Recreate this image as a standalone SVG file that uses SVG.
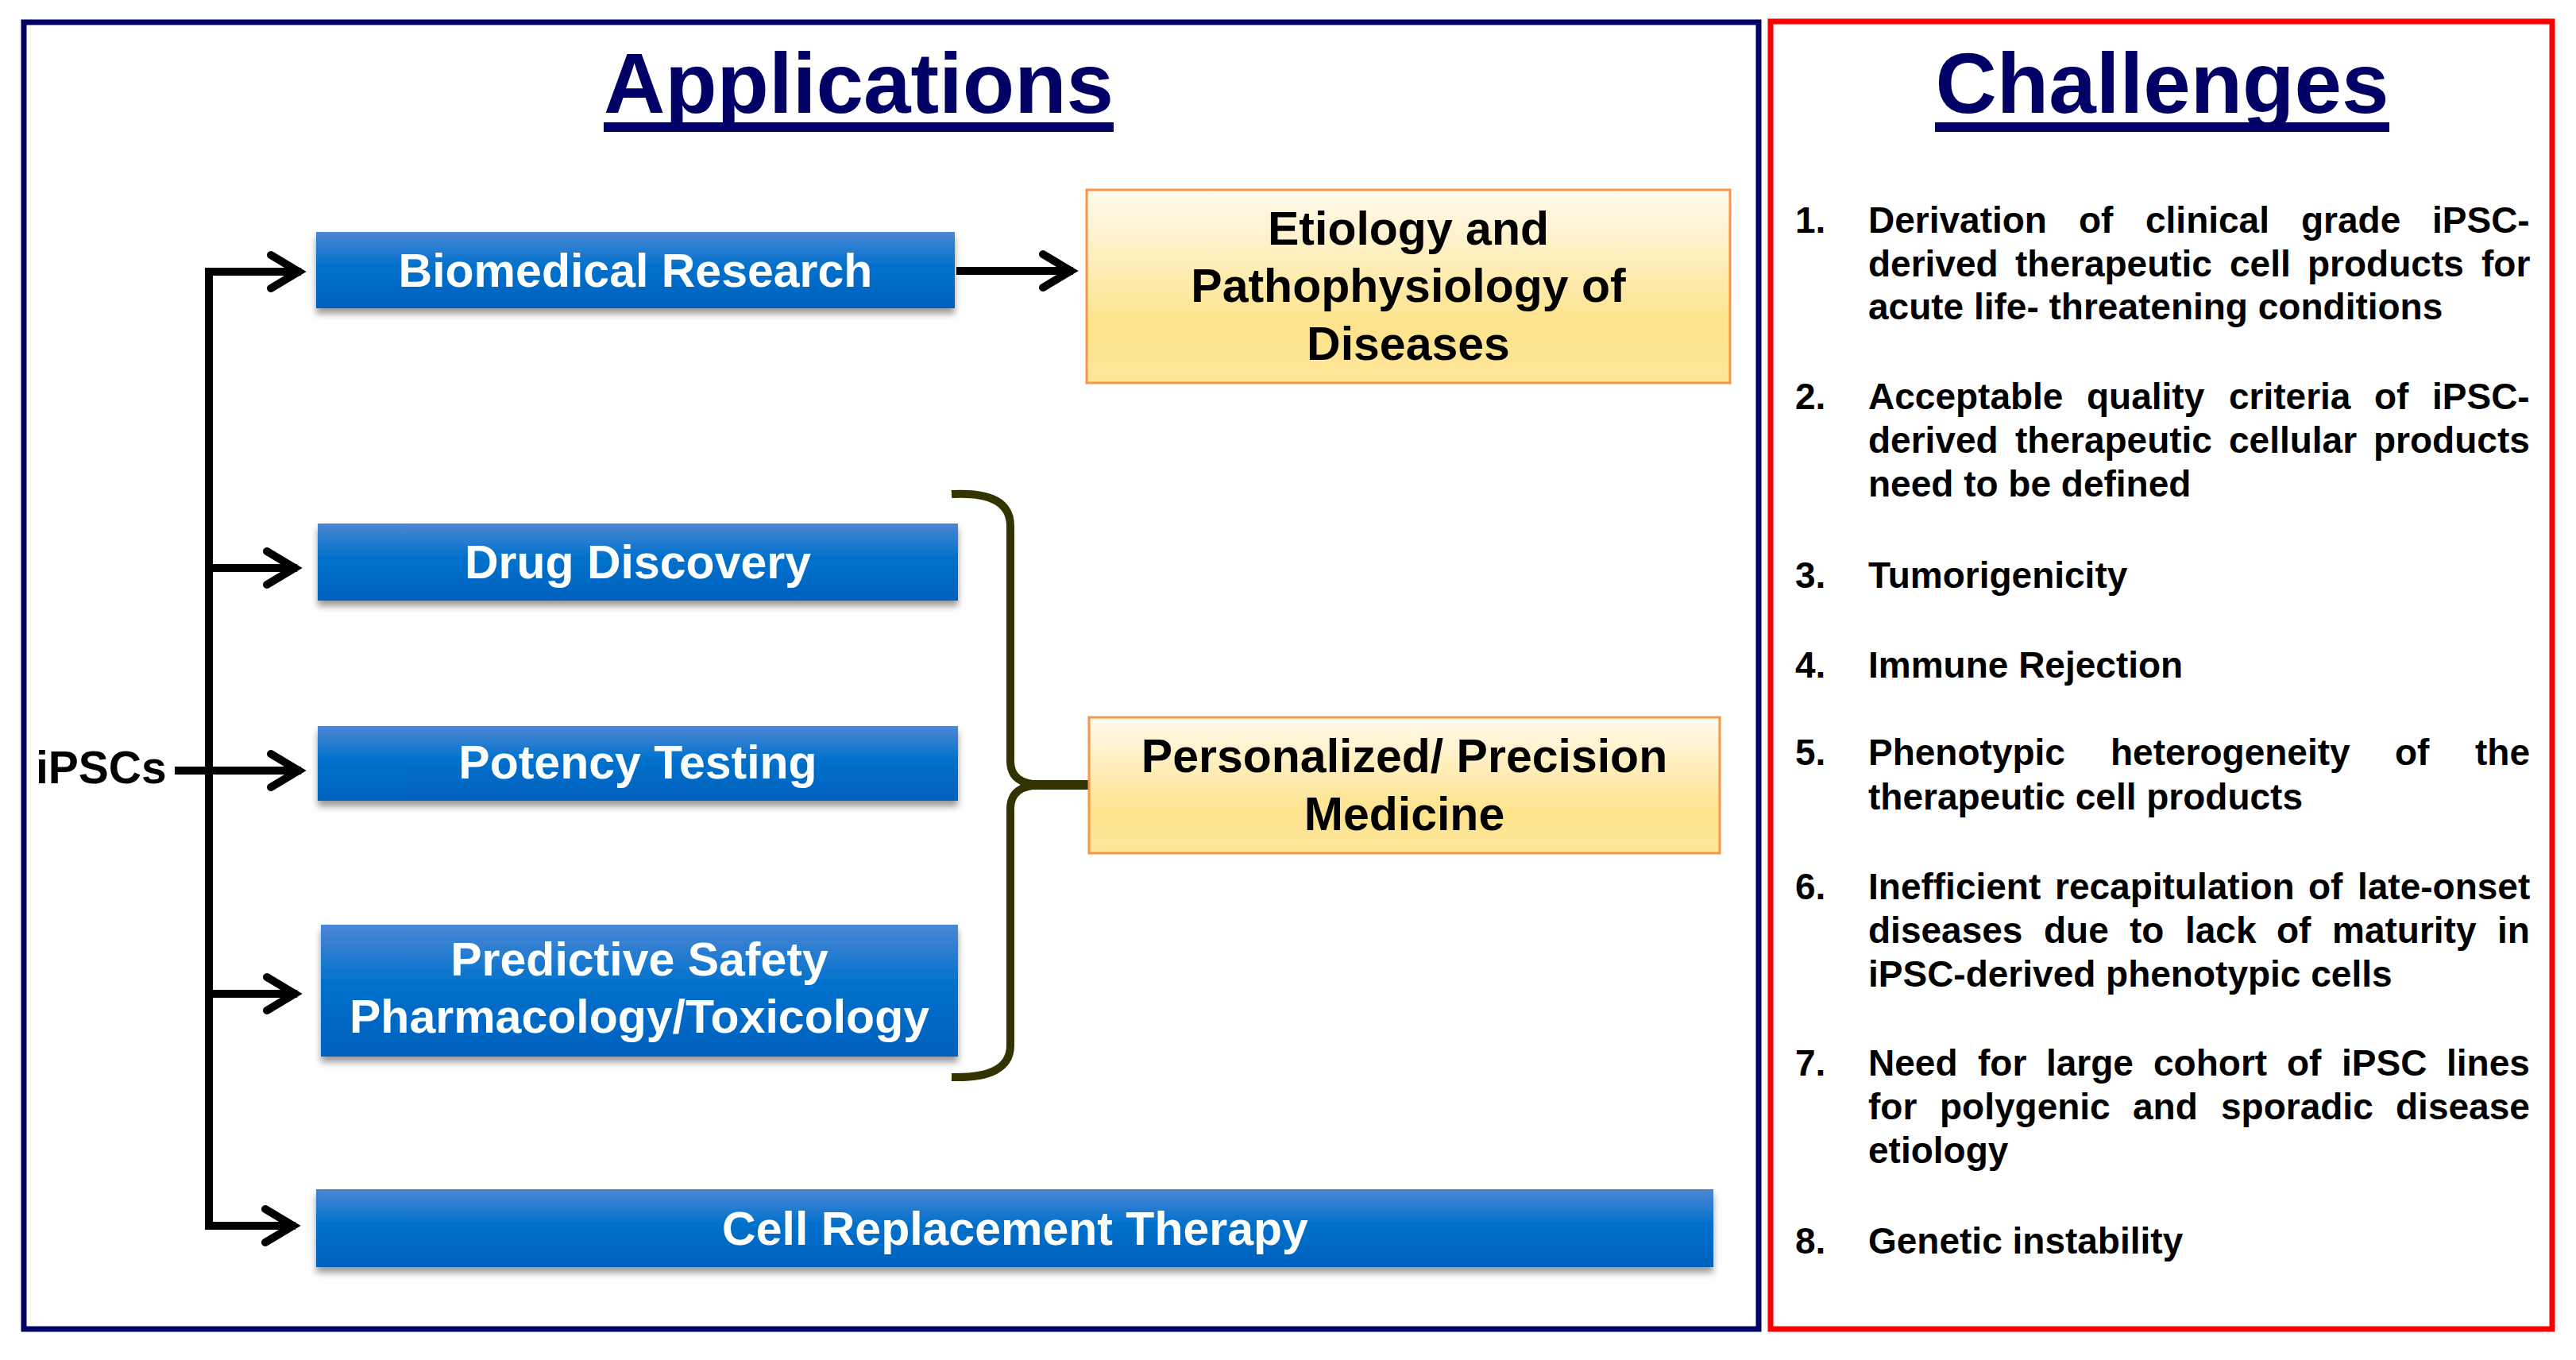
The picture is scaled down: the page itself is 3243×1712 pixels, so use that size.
<svg xmlns="http://www.w3.org/2000/svg" width="3243" height="1712" viewBox="0 0 3243 1712">
<style>
text{font-family:"Liberation Sans",Arial,sans-serif;font-weight:bold}
.title{font-size:107px;fill:#000066;text-anchor:middle}
.bt{font-size:59px;fill:#ffffff;text-anchor:middle}
.yt{font-size:59px;fill:#000000;text-anchor:middle}
.li{font-size:46px;fill:#000000}
.blue{fill:url(#gBlue);filter:url(#sh)}
.yel{fill:url(#gYel);stroke:#f79646;stroke-width:3}
.con{fill:none;stroke:#000;stroke-width:10;stroke-linejoin:miter}
</style>
<defs>
<linearGradient id="gBlue" x1="0" y1="0" x2="0" y2="1">
<stop offset="0" stop-color="#4d87d4"/>
<stop offset="0.45" stop-color="#0071cb"/>
<stop offset="1" stop-color="#0061be"/>
</linearGradient>
<linearGradient id="gYel" x1="0" y1="0" x2="0" y2="1">
<stop offset="0" stop-color="#fffaee"/>
<stop offset="0.7" stop-color="#fde38b"/>
<stop offset="1" stop-color="#fee69a"/>
</linearGradient>
<filter id="sh" x="-5%" y="-20%" width="110%" height="150%">
<feDropShadow dx="0" dy="7" stdDeviation="4" flood-color="#000" flood-opacity="0.4"/>
</filter>
<marker id="ah" markerUnits="userSpaceOnUse" viewBox="-50 -30 60 60" markerWidth="60" markerHeight="60" refX="0" refY="0" orient="auto-start-reverse">
<path d="M-38,-21 L-3,0 L-38,21" fill="none" stroke="#000" stroke-width="10" stroke-linejoin="miter" stroke-linecap="round"/>
</marker>
</defs>
<rect width="3243" height="1712" fill="#fff"/>

<g id="panel-applications">
<rect x="30" y="28" width="2184" height="1645" fill="none" stroke="#000066" stroke-width="7"/>
<text class="title" x="1081" y="142">Applications</text>
<rect x="760" y="154" width="642" height="12" fill="#000066"/>
</g>

<g id="panel-challenges">
<rect x="2229" y="27" width="984" height="1646" fill="none" stroke="#ff0000" stroke-width="7"/>
<text class="title" x="2722" y="142">Challenges</text>
<rect x="2436" y="154" width="572" height="12" fill="#000066"/>
<g class="li">
<text x="2260" y="293">1.</text>
<text y="293"><tspan x="2352">Derivation</tspan> <tspan x="2617">of</tspan> <tspan x="2701">clinical</tspan> <tspan x="2897">grade</tspan> <tspan x="3062">iPSC-</tspan></text>
<text y="348"><tspan x="2352">derived</tspan> <tspan x="2537">therapeutic</tspan> <tspan x="2807">cell</tspan> <tspan x="2905">products</tspan> <tspan x="3124">for</tspan></text>
<text x="2352" y="402">acute life- threatening conditions</text>
<text x="2260" y="515">2.</text>
<text y="515"><tspan x="2352">Acceptable</tspan> <tspan x="2627">quality</tspan> <tspan x="2806">criteria</tspan> <tspan x="2989">of</tspan> <tspan x="3062">iPSC-</tspan></text>
<text y="570"><tspan x="2352">derived</tspan> <tspan x="2537">therapeutic</tspan> <tspan x="2806">cellular</tspan> <tspan x="2988">products</tspan></text>
<text x="2352" y="625">need to be defined</text>
<text x="2260" y="740">3.</text>
<text x="2352" y="740">Tumorigenicity</text>
<text x="2260" y="853">4.</text>
<text x="2352" y="853">Immune Rejection</text>
<text x="2260" y="963">5.</text>
<text y="963"><tspan x="2352">Phenotypic</tspan> <tspan x="2657">heterogeneity</tspan> <tspan x="3015">of</tspan> <tspan x="3116">the</tspan></text>
<text x="2352" y="1019">therapeutic cell products</text>
<text x="2260" y="1132">6.</text>
<text y="1132"><tspan x="2352">Inefficient</tspan> <tspan x="2587">recapitulation</tspan> <tspan x="2906">of</tspan> <tspan x="2968">late-onset</tspan></text>
<text y="1187"><tspan x="2352">diseases</tspan> <tspan x="2573">due</tspan> <tspan x="2681">to</tspan> <tspan x="2751">lack</tspan> <tspan x="2866">of</tspan> <tspan x="2936">maturity</tspan> <tspan x="3144">in</tspan></text>
<text x="2352" y="1242">iPSC-derived phenotypic cells</text>
<text x="2260" y="1354">7.</text>
<text y="1354"><tspan x="2352">Need</tspan> <tspan x="2490">for</tspan> <tspan x="2576">large</tspan> <tspan x="2711">cohort</tspan> <tspan x="2879">of</tspan> <tspan x="2948">iPSC</tspan> <tspan x="3080">lines</tspan></text>
<text y="1409"><tspan x="2352">for</tspan> <tspan x="2442">polygenic</tspan> <tspan x="2685">and</tspan> <tspan x="2796">sporadic</tspan> <tspan x="3016">disease</tspan></text>
<text x="2352" y="1464">etiology</text>
<text x="2260" y="1578">8.</text>
<text x="2352" y="1578">Genetic instability</text>
</g>
</g>

<g id="connectors">
<path class="con" d="M379,342 H263 V1543 H372" marker-start="url(#ah)" marker-end="url(#ah)"/>
<path class="con" d="M263,715 H374" marker-end="url(#ah)"/>
<path class="con" d="M220,970 H379" marker-end="url(#ah)"/>
<path class="con" d="M263,1251 H374" marker-end="url(#ah)"/>
<path class="con" d="M1204,341 H1351" marker-end="url(#ah)"/>
<path d="M1198,622 Q1272,618 1272,662 L1272,958 Q1272,988 1312,988 L1371,988 M1312,988 Q1272,988 1272,1018 L1272,1316 Q1272,1358 1198,1356" fill="none" stroke="#333300" stroke-width="10"/>
<path d="M1290,982 L1371,982 L1371,994 L1290,994 Z" fill="#333300"/>
</g>

<g id="ipscs">
<text x="45" y="986" style="font-size:57px;fill:#000">iPSCs</text>
</g>

<g id="biomedical-research">
<rect class="blue" x="398" y="292" width="804" height="96"/>
<text class="bt" x="800" y="361">Biomedical Research</text>
</g>

<g id="drug-discovery">
<rect class="blue" x="400" y="659" width="806" height="97"/>
<text class="bt" x="803" y="728">Drug Discovery</text>
</g>

<g id="potency-testing">
<rect class="blue" x="400" y="914" width="806" height="94"/>
<text class="bt" x="803" y="980">Potency Testing</text>
</g>

<g id="predictive-safety">
<rect class="blue" x="404" y="1164" width="802" height="166"/>
<text class="bt" x="805" y="1228">Predictive Safety</text>
<text class="bt" x="805" y="1300">Pharmacology/Toxicology</text>
</g>

<g id="cell-replacement">
<rect class="blue" x="398" y="1497" width="1759" height="98"/>
<text class="bt" x="1278" y="1567">Cell Replacement Therapy</text>
</g>

<g id="etiology">
<rect class="yel" x="1368" y="239" width="810" height="243"/>
<text class="yt" x="1773" y="308">Etiology and</text>
<text class="yt" x="1773" y="380">Pathophysiology of</text>
<text class="yt" x="1773" y="453">Diseases</text>
</g>

<g id="personalized">
<rect class="yel" x="1371" y="903" width="794" height="171"/>
<text class="yt" x="1768" y="972">Personalized/ Precision</text>
<text class="yt" x="1768" y="1045">Medicine</text>
</g>
</svg>
